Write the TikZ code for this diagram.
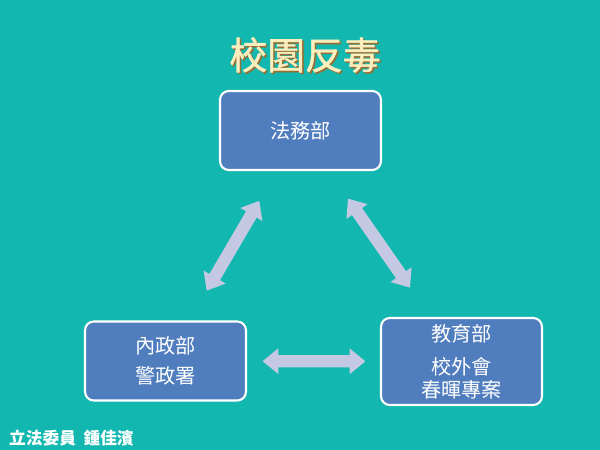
\documentclass[tikz,border=0pt]{standalone}
\usepackage{fontspec}
\setmainfont{Noto Sans CJK TC}
\newfontfamily\titlefont[FakeBold=1.2]{Noto Sans CJK TC}
\usetikzlibrary{arrows.meta,positioning}

\definecolor{bgteal}{RGB}{18,184,176}
\definecolor{boxblue}{RGB}{80,125,190}
\definecolor{arrowgray}{RGB}{196,200,226}
\definecolor{titlecream}{RGB}{250,238,190}
\definecolor{titleshade}{RGB}{150,110,50}

\begin{document}
\begin{tikzpicture}[x=0.02cm,y=-0.02cm,
    dept/.style={draw=white,line width=1.2pt,fill=boxblue,rounded corners=5pt,
      minimum width=3.22cm,minimum height=1.58cm,text=white,align=center,font=\fontsize{11.5pt}{17pt}\selectfont},
    biarrow/.style={draw=arrowgray,line width=7pt,
      {Triangle[width=14pt,length=9pt]}-{Triangle[width=14pt,length=9pt]}}]
    % background
    \fill[bgteal] (0,0) rectangle (600,450);
    \useasboundingbox (0,0) rectangle (600,450);
    % title
    \node[text=titleshade,font=\fontsize{21.5pt}{24pt}\titlefont] at (306.5,56.5) {校園反毒};
    \node (title) [text=titlecream,font=\fontsize{21.5pt}{24pt}\titlefont] at (305,55) {校園反毒};
    % the three ministries
    \node[dept] (fa) at (300.5,130.5) {法務部};
    \node[dept] (nei) at (165.5,361) {內政部\\警政署};
    \node[dept,minimum height=1.74cm,font=\fontsize{11.5pt}{13pt}\selectfont] (jiao) at (461.5,361.5) {教育部\\[6pt]校外會\\春暉專案};
    % links
    \draw[biarrow,shorten <=1.63cm,shorten >=1.63cm] (nei.center) -- (fa.center);
    \draw[biarrow,shorten <=1.66cm,shorten >=1.8cm] (fa.center) -- (jiao.center);
    \draw[biarrow,shorten <=1.94cm,shorten >=1.92cm] (nei.center) -- (jiao.center);
    % footer
    \node (sign) [text=white,font=\fontsize{9.5pt}{10pt}\selectfont\bfseries,anchor=west] at (3,438) {立法委員\ \ 鍾佳濱};
\end{tikzpicture}
\end{document}
